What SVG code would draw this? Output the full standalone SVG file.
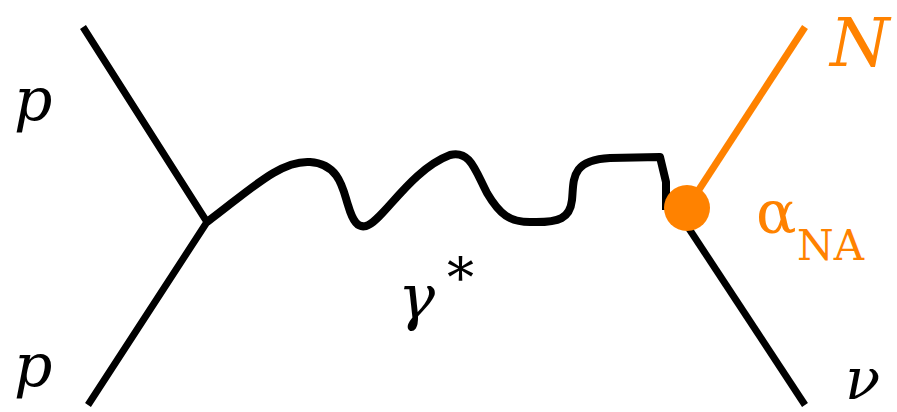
<svg xmlns="http://www.w3.org/2000/svg" width="897" height="412" viewBox="0 0 897 412">
<style>
.l{stroke:#000;stroke-width:7;fill:none;stroke-linecap:butt;stroke-linejoin:round}
.w{stroke-width:8}
.o{stroke:#ff8200;stroke-width:7;fill:none}
text{font-family:'DejaVu Serif','Liberation Serif',serif}
.t{font-style:italic;fill:#000}
.to{fill:#ff8200}
</style>
<rect width="897" height="412" fill="#fff"/>
<g id="connectors">
<path class="l" d="M83,27 L207,222 L88,405"/>
<path class="l w" d="M207,222 C250,190 280,160 310,162 C340,164 343,190 348,205 C353,222 358,228 366,226 C382,222 410,170 450,155 C470,150 475,170 487,193 C500,215 510,222 530,222 C560,223 570,218 572,200 C574,180 570,160 610,158 L660,157 L666,182 L666,210"/>
<path class="l" d="M680,215 L805,405"/>
<path class="o" d="M687,208 L805,27"/>
</g>
<g id="vertex-na"><circle cx="687" cy="208" r="23" fill="#ff8200"/></g>
<g id="label-p1"><text class="t" x="14" y="120" font-size="60">p</text></g>
<g id="label-p2"><text class="t" x="14" y="386" font-size="60">p</text></g>
<g id="label-gamma"><text class="t" x="398" y="318" font-size="62">γ</text><text x="447" y="297" font-size="54">*</text></g>
<g id="label-N"><text class="to" font-style="italic" x="830" y="66" font-size="68">N</text></g>
<g id="label-alpha"><text class="to" x="756" y="233" font-size="60">α</text><text class="to" x="797" y="260" font-size="42">NA</text></g>
<g id="label-nu"><text class="t" x="845" y="399" font-size="58">ν</text></g>
</svg>
